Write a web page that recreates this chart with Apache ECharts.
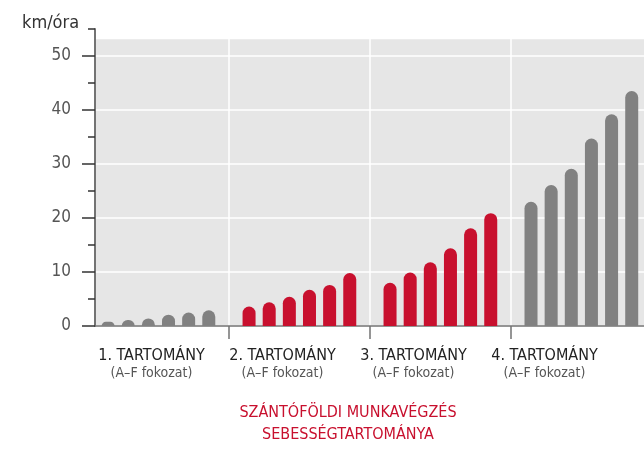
<!DOCTYPE html>
<html>
<head>
<meta charset="utf-8">
<script src="https://cdn.jsdelivr.net/npm/echarts@6/dist/echarts.min.js"></script>
<style>
  html, body {margin: 0; padding: 0; background: #fff;}
  #chart {width: 644px; height: 451px;}
</style>
</head>
<body>
<div id="chart"></div>
<script>
// tartományok
const groups = ['1. TARTOMÁNY', '2. TARTOMÁNY', '3. TARTOMÁNY', '4. TARTOMÁNY'];
const gearNote = '(A–F fokozat)';
// sebességek km/óra, A–F fokozat
const range1 = [0.8, 1.1, 1.4, 2.1, 2.5, 2.9];
const range2 = [3.6, 4.4, 5.4, 6.7, 7.6, 9.8];
const range3 = [8.0, 9.9, 11.8, 14.4, 18.1, 20.9];
const range4 = [23.0, 26.1, 29.1, 34.7, 39.2, 43.5];
const yMajor = [0, 10, 20, 30, 40, 50];
const yMinor = [5, 15, 25, 35, 45, 55];
const unit = 'km/óra';
const caption = 'SZÁNTÓFÖLDI MUNKAVÉGZÉS\nSEBESSÉGTARTOMÁNYA';

const GREY = '#818181';
const RED = '#c8102e';
const colors = [GREY, RED, RED, GREY];
const FONT = "'Liberation Sans Narrow', 'Arial Narrow', 'DejaVu Sans Condensed', sans-serif";

const slots = 7; // 6 fokozat + 1 hely a tartományok között
const ranges = [range1, range2, range3, range4];
const barData = [];
ranges.forEach((vals, g) => {
  vals.forEach((v, k) => {
    barData.push({value: [g * slots + k + 1, v], itemStyle: {color: colors[g]}});
  });
});
const separators = [1, 2, 3].map(g => g * slots);

const chart = echarts.init(document.getElementById('chart'), null, {renderer: 'canvas'});
chart.setOption({
  animation: false,
  title: [{
    text: unit,
    left: 17, top: 9,
    textStyle: {fontFamily: FONT, fontSize: 18, fontWeight: 'normal', color: '#333'}
  }, {
    text: caption,
    left: 343, top: 397, textAlign: 'center',
    textStyle: {fontFamily: FONT, fontSize: 16, fontWeight: 'normal', color: RED, lineHeight: 22}
  }],
  grid: [
    {left: 95, right: 0, top: 29, bottom: 125},
    {left: 86, right: 34, top: 29, bottom: 125}
  ],
  xAxis: [{
    type: 'value',
    gridIndex: 0,
    min: 0.35,
    max: 27.61,
    axisLine: {show: true, lineStyle: {color: '#737373', width: 1.5}},
    axisTick: {show: true, customValues: separators, length: 13, lineStyle: {color: '#737373', width: 1.5}},
    axisLabel: {show: false},
    splitLine: {show: true, lineStyle: {color: '#fff', width: 1.5}}
  }, {
    type: 'category',
    gridIndex: 1,
    data: groups,
    axisLine: {show: false},
    axisTick: {show: false},
    axisLabel: {
      interval: 0,
      hideOverlap: false,
      margin: 20,
      formatter: v => `{t|${v}}\n{s|${gearNote}}`,
      rich: {
        t: {fontFamily: FONT, fontSize: 16, color: '#222', lineHeight: 19},
        s: {fontFamily: FONT, fontSize: 14, color: '#555', lineHeight: 17}
      }
    }
  }],
  yAxis: [{
    type: 'value',
    gridIndex: 0,
    position: 'left',
    min: 0, max: 55,
    axisLine: {show: true, lineStyle: {color: '#737373', width: 2}},
    axisTick: {show: true, customValues: yMajor, length: 13, lineStyle: {color: '#333', width: 1.5}},
    axisLabel: {customValues: yMajor, margin: 24, fontFamily: FONT, fontSize: 17, color: '#555'},
    splitLine: {show: true, lineStyle: {color: '#fff', width: 1.5}}
  }, {
    type: 'value',
    gridIndex: 0,
    position: 'left',
    offset: 0,
    min: 0, max: 55,
    axisLine: {show: false},
    axisTick: {show: true, customValues: yMinor, length: 7, lineStyle: {color: '#333', width: 1.5}},
    axisLabel: {show: false},
    splitLine: {show: false}
  }, {
    type: 'value',
    gridIndex: 1,
    show: false
  }],
  series: [{
    type: 'bar',
    xAxisIndex: 0,
    yAxisIndex: 0,
    barWidth: 13,
    data: barData,
    itemStyle: {borderRadius: [6.5, 6.5, 0, 0]},
    markArea: {
      silent: true,
      z: -1,
      itemStyle: {color: '#e6e6e6'},
      data: [[{yAxis: 0}, {yAxis: 53.1}]]
    }
  }]
});
</script>
</body>
</html>
